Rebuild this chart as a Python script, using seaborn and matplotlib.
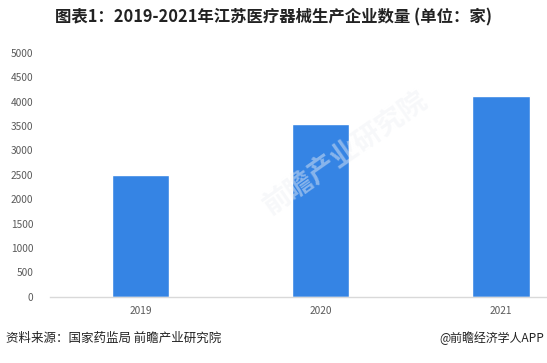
import pandas as pd
import seaborn as sns
import matplotlib.pyplot as plt

# data
years = ['2019', '2020', '2021']
companies = [2490, 3540, 4115]
yticks = [0, 500, 1000, 1500, 2000, 2500, 3000, 3500, 4000, 4500, 5000]

title = '图表1：2019-2021年江苏医疗器械生产企业数量 (单位：家)'
source = '资料来源：国家药监局 前瞻产业研究院'
brand = '@前瞻经济学人APP'

sns.set_theme(style='white')
plt.rcParams['font.family'] = ['Noto Sans CJK SC', 'DejaVu Sans']

df = pd.DataFrame({'year': years, 'count': companies})

fig = plt.figure(figsize=(5.47, 3.63), dpi=100)
ax = fig.add_axes([0.0914, 0.1826, 0.9086, 0.6714])

sns.barplot(data=df, x='year', y='count', color='#3584E4', saturation=1,
            width=0.317, ax=ax)

ax.set_xlim(-0.503, 2.255)
ax.set_ylim(0, 5000)
ax.set_yticks(yticks)
ax.set_xlabel('')
ax.set_ylabel('')
ax.tick_params(axis='both', labelsize=7.3, colors='#595959', length=0)
ax.tick_params(axis='y', pad=12)
ax.tick_params(axis='x', pad=7)

for side in ['top', 'right', 'left']:
    ax.spines[side].set_visible(False)
ax.spines['bottom'].set_color('#D9D9D9')
ax.spines['bottom'].set_linewidth(1)

# faint watermark
fig.text(0.63, 0.58, '前瞻产业研究院', fontsize=20, color='#EEF0F4', alpha=0.45,
         rotation=35, ha='center', va='center', fontweight='bold', zorder=10)

fig.text(0.5, 0.953, title, ha='center', va='center', fontsize=11.8,
         fontweight='bold', color='#222222')
fig.text(0.011, 0.068, source, ha='left', va='center', fontsize=9, color='#222222')
fig.text(0.995, 0.068, brand, ha='right', va='center', fontsize=8.6, color='#222222')

fig.savefig('out.png', dpi=100)
